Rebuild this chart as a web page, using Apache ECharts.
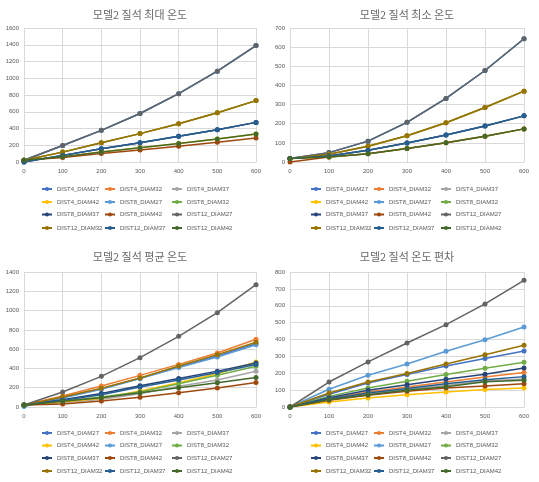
<!DOCTYPE html>
<html><head><meta charset="utf-8">
<script src="https://cdn.jsdelivr.net/npm/echarts@6/dist/echarts.min.js"></script>
<style>html,body{margin:0;padding:0;background:#fff}#c{width:539px;height:482px}</style>
</head><body><div id="c"></div>
<script>
const xs = [0, 100, 200, 300, 400, 500, 600];
const seriesNames = ['DIST4_DIAM27','DIST4_DIAM32','DIST4_DIAM37','DIST4_DIAM42','DIST8_DIAM27','DIST8_DIAM32','DIST8_DIAM37','DIST8_DIAM42','DIST12_DIAM27','DIST12_DIAM32','DIST12_DIAM37','DIST12_DIAM42'];
const colors = ['#4472C4','#ED7D31','#A5A5A5','#FFC000','#5B9BD5','#70AD47','#264478','#9E480E','#636363','#997300','#255E91','#43682B'];
const titles = ['모델2 질석 최대 온도','모델2 질석 최소 온도','모델2 질석 평균 온도','모델2 질석 온도 편차'];
const yMax = [1600, 700, 1400, 800];
const yStep = [200, 100, 200, 100];

// 최대 온도 (series order as seriesNames)
const maxTemp = [
  [20,197,378,579,816,1084,1391],
  [20,118,229,339,457,587,733],
  [0,79,158,229,307,386,473],
  [20,63,118,170,221,276,335],
  [20,197,378,579,816,1084,1391],
  [20,118,229,339,457,587,733],
  [0,79,158,229,307,386,473],
  [20,55,102,142,189,236,288],
  [20,197,378,579,816,1084,1391],
  [20,118,229,339,457,587,733],
  [0,79,158,229,307,386,473],
  [20,63,118,170,221,276,335]
];
// 최소 온도
const minTemp = [
  [18,49,109,207,332,478,644],
  [18,40,82,137,205,285,370],
  [18,31,61,99,141,188,241],
  [18,26,43,71,101,134,173],
  [18,49,109,207,332,478,644],
  [18,40,82,137,205,285,370],
  [18,31,61,99,141,188,241],
  [0,26,43,71,101,134,173],
  [18,49,109,207,332,478,644],
  [18,40,82,137,205,285,370],
  [18,31,61,99,141,188,241],
  [18,26,43,71,101,134,173]
];
// 평균 온도
const avgTemp = [
  [20,98,188,298,415,529,655],
  [20,114,218,328,442,560,702],
  [20,45,80,138,215,280,370],
  [20,52,90,166,252,345,467],
  [5,93,183,294,410,518,646],
  [20,62,104,156,242,330,422],
  [20,76,140,220,296,372,456],
  [20,32,62,100,149,197,253],
  [20,156,318,512,733,978,1269],
  [20,104,195,301,425,543,672],
  [20,69,128,207,280,358,440],
  [20,59,97,149,200,252,306]
];
// 온도 편차
const devTemp = [
  [0,75,142,192,243,287,332],
  [0,49,89,119,148,178,204],
  [0,45,77,105,128,154,166],
  [0,30,53,73,89,103,113],
  [0,105,188,255,330,399,474],
  [0,63,113,152,192,229,265],
  [0,55,99,132,164,194,231],
  [0,40,69,93,113,125,138],
  [0,148,267,379,488,611,751],
  [0,83,148,198,255,310,366],
  [0,47,83,109,138,162,180],
  [0,43,73,99,120,150,158]
];
const datasets = [maxTemp, minTemp, avgTemp, devTemp];

const TXT = '#595959', GRID = '#D9D9D9';
const gridPos = [
  {left:24, top:28, width:232, height:134},
  {left:290, top:28, width:234, height:134},
  {left:24, top:272, width:232, height:135},
  {left:290, top:272, width:234, height:135}
];
const titleCenter = [[135,4],[402,4],[135,246],[402,246]];
const legendX = [[41,104,171],[310,373,440]];
const legendRowsTop = [[186,199,211.5,225],[430,442.5,455,468]];
const legendCols = [
  ['DIST4_DIAM27','DIST4_DIAM42','DIST8_DIAM37','DIST12_DIAM32'],
  ['DIST4_DIAM32','DIST8_DIAM27','DIST8_DIAM42','DIST12_DIAM37'],
  ['DIST4_DIAM37','DIST8_DIAM32','DIST12_DIAM27','DIST12_DIAM42']
];

const option = {
  backgroundColor:'#fff', animation:false,
  title:[], grid:[], xAxis:[], yAxis:[], legend:[], series:[]
};
for (let g = 0; g < 4; g++) {
  option.title.push({text:titles[g], left:titleCenter[g][0], top:titleCenter[g][1], textAlign:'center',
    textStyle:{fontSize:11, fontWeight:'normal', color:'#6a6a6a', fontFamily:'Noto Sans CJK KR'}});
  option.grid.push(Object.assign({containLabel:false}, gridPos[g]));
  option.xAxis.push({type:'value', gridIndex:g, min:0, max:600, interval:100,
    axisLine:{show:true, lineStyle:{color:GRID}}, axisTick:{show:false},
    splitLine:{show:true, lineStyle:{color:GRID}},
    axisLabel:{fontSize:6, color:TXT, margin:6, fontFamily:'Liberation Sans', formatter:v=>String(v)}});
  option.yAxis.push({type:'value', gridIndex:g, min:0, max:yMax[g], interval:yStep[g],
    axisLine:{show:false}, axisTick:{show:false},
    splitLine:{show:true, lineStyle:{color:GRID}},
    axisLabel:{fontSize:6, color:TXT, margin:5, fontFamily:'Liberation Sans', formatter:v=>String(v)}});
  const ds = datasets[g];
  for (let s = 0; s < seriesNames.length; s++) {
    option.series.push({type:'line', name:seriesNames[s], xAxisIndex:g, yAxisIndex:g,
      data: xs.map((x,i)=>[x, ds[s][i]]),
      symbol:'circle', symbolSize:5, color:colors[s],
      lineStyle:{width:1.5, color:colors[s]}, itemStyle:{color:colors[s]},
      emphasis:{disabled:true}});
  }
  const col = g % 2, row = Math.floor(g/2);
  for (let c = 0; c < 3; c++) {
    for (let r = 0; r < 4; r++) {
      option.legend.push({data:[legendCols[c][r]], left:legendX[col][c], top:legendRowsTop[row][r],
        itemWidth:10, itemHeight:5, padding:0, selectedMode:false,
        textStyle:{fontSize:6, color:TXT, fontFamily:'Liberation Sans'}});
    }
  }
}
const chart = echarts.init(document.getElementById('c'), null, {renderer:'canvas'});
chart.setOption(option);
</script></body></html>
